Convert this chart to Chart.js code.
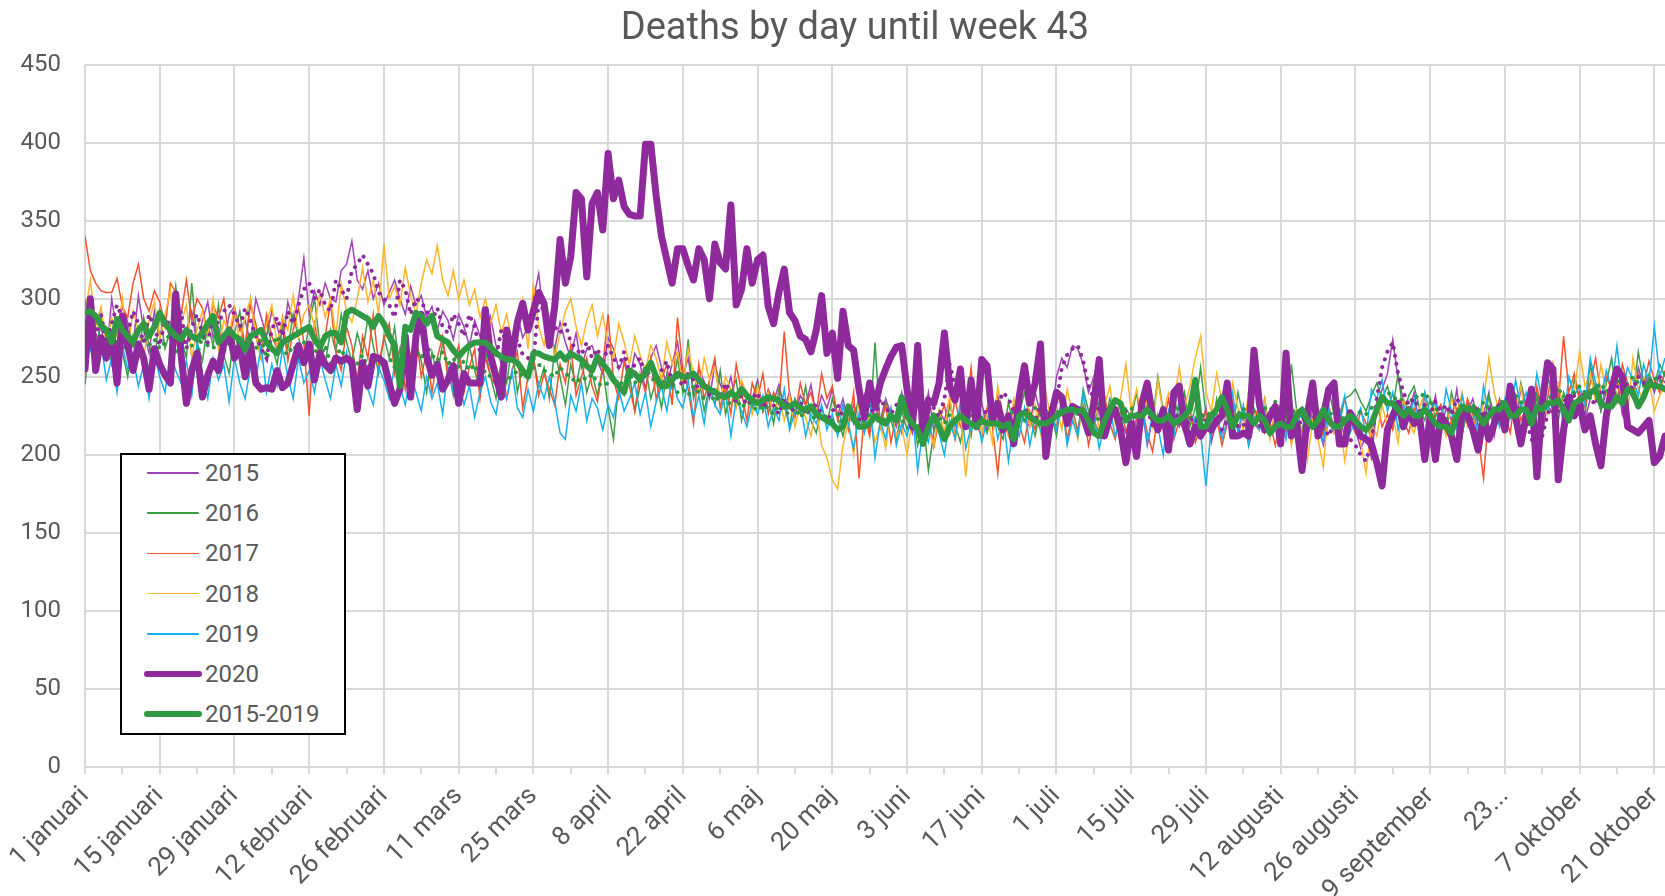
<!DOCTYPE html>
<html>
<head>
<meta charset="utf-8">
<title>Deaths by day until week 43</title>
<script src="https://cdn.jsdelivr.net/npm/chart.js@4.4.1/dist/chart.umd.min.js"></script>
<style>
  html, body { margin: 0; padding: 0; background: #fff; overflow: hidden; }
  #wrap { position: relative; width: 1710px; height: 896px; }
  #legend {
    position: absolute; left: 120px; top: 453px; width: 226px; height: 282px;
    box-sizing: border-box; border: 2px solid #000; background: #fff;
    font-family: Roboto, sans-serif; font-size: 24px; color: #595959;
  }
  #legend .item { position: absolute; left: 0; width: 100%; height: 30px; }
  #legend .swatch { position: absolute; top: 50%; }
  #legend .text { position: absolute; left: 83px; top: 0; line-height: 30px; }
</style>
</head>
<body>
<div id="wrap">
  <canvas id="deaths-chart" width="1710" height="896"></canvas>
  <div id="legend"></div>
</div>
<script>
// tick labels, one per 14 days starting 1 januari
const tickLabels = ['1 januari', '15 januari', '29 januari', '12 februari', '26 februari', '11 mars',
  '25 mars', '8 april', '22 april', '6 maj', '20 maj', '3 juni', '17 juni', '1 juli', '15 juli',
  '29 juli', '12 augusti', '26 augusti', '9 september', '23...', '7 oktober', '21 oktober'];

// daily deaths, 1 jan .. 23 okt (14 values per row)
const s2015 = [
  275, 290, 268, 283, 262, 300, 278, 295, 285, 270, 302, 280, 265, 292,
  276, 288, 272, 296, 265, 280, 292, 270, 286, 298, 275, 282, 268, 290,
  295, 280, 286, 272, 300, 288, 276, 292, 282, 270, 298, 285, 300, 326,
  290, 305, 296, 310, 300, 298, 318, 322, 337, 312, 306, 318, 300, 310,
  296, 304, 312, 300, 290, 308, 296, 302, 288, 295, 280, 292, 286, 274,
  290, 282, 270, 286, 276, 262, 288, 270, 258, 280, 268, 290, 275, 282,
  300, 316, 285, 278, 268, 285, 272, 262, 278, 256, 268, 270, 260, 252,
  275, 268, 255, 262, 248, 265, 258, 242, 262, 270, 256, 245, 258, 272,
  250, 262, 240, 255, 247, 236, 258, 245, 238, 250, 232, 246, 240, 236,
  248, 228, 242, 234, 245, 230, 240, 226, 238, 232, 245, 225, 238, 230,
  242, 225, 236, 220, 232, 224, 238, 218, 230, 222, 236, 226, 218, 240,
  226, 214, 232, 220, 240, 216, 228, 222, 236, 212, 230, 218, 226, 220,
  234, 215, 228, 238, 220, 226, 214, 230, 222, 218, 240, 226, 230, 222,
  250, 262, 256, 270, 268, 258, 240, 250, 226, 236, 218, 230, 222, 214,
  228, 216, 232, 206, 224, 218, 230, 210, 226, 218, 232, 212, 224, 216,
  230, 208, 222, 214, 228, 218, 212, 226, 206, 220, 216, 230, 212, 222,
  214, 226, 208, 220, 230, 212, 224, 218, 206, 222, 214, 228, 210, 220,
  216, 204, 212, 198, 230, 242, 252, 274, 248, 236, 226, 240, 218, 232,
  224, 238, 216, 230, 222, 242, 214, 228, 236, 218, 226, 240, 212, 230,
  222, 236, 216, 244, 228, 220, 238, 214, 232, 226, 244, 218, 234, 228,
  240, 222, 236, 246, 228, 240, 232, 250, 226, 242, 236, 256, 244, 250,
  240, 252, 246
];
const s2016 = [
  245, 280, 262, 290, 272, 258, 282, 266, 250, 276, 262, 288, 270, 258,
  292, 268, 280, 308, 275, 262, 310, 272, 260, 284, 270, 296, 264, 252,
  278, 292, 268, 300, 276, 262, 286, 270, 258, 282, 268, 290, 275, 262,
  284, 300, 270, 258, 280, 266, 290, 272, 260, 278, 265, 288, 270, 252,
  276, 262, 282, 254, 268, 246, 272, 260, 240, 266, 250, 272, 256, 238,
  262, 248, 270, 254, 242, 266, 250, 236, 260, 246, 270, 240, 256, 248,
  262, 244, 256, 236, 268, 250, 232, 258, 244, 262, 240, 252, 238, 256,
  230, 210, 246, 238, 252, 228, 244, 256, 236, 248, 230, 252, 242, 262,
  240, 274, 236, 250, 228, 244, 232, 254, 226, 240, 248, 222, 238, 230,
  246, 228, 236, 220, 242, 232, 218, 236, 226, 244, 222, 214, 230, 220,
  236, 224, 212, 230, 220, 238, 226, 215, 272, 218, 234, 222, 210, 228,
  216, 226, 206, 222, 190, 214, 228, 212, 232, 220, 208, 226, 212, 238,
  222, 214, 230, 218, 210, 234, 216, 226, 240, 224, 212, 230, 218, 226,
  212, 236, 222, 230, 214, 242, 228, 218, 234, 220, 236, 226, 214, 230,
  224, 240, 216, 232, 222, 250, 228, 214, 236, 224, 240, 218, 230, 256,
  226, 212, 236, 222, 230, 216, 240, 224, 212, 230, 222, 236, 214, 226,
  232, 218, 258, 228, 214, 236, 222, 230, 216, 242, 226, 220, 236, 238,
  242, 234, 228, 238, 246, 236, 244, 230, 252, 226, 238, 244, 230, 222,
  236, 224, 232, 218, 240, 226, 212, 234, 222, 230, 216, 238, 226, 220,
  232, 240, 224, 246, 232, 218, 238, 226, 252, 234, 222, 240, 230, 248,
  236, 224, 258, 240, 228, 246, 262, 234, 250, 242, 238, 266, 246, 252,
  244, 258, 250
];
const s2017 = [
  340, 318, 310, 305, 304, 304, 313, 295, 288, 310, 322, 300, 292, 305,
  298, 282, 310, 304, 290, 312, 286, 300, 294, 278, 296, 288, 300, 274,
  290, 282, 270, 296, 284, 262, 290, 276, 268, 288, 260, 280, 294, 272,
  225, 286, 262, 276, 298, 266, 254, 282, 270, 248, 276, 262, 290, 258,
  274, 284, 252, 268, 242, 264, 278, 250, 266, 240, 262, 276, 248, 258,
  270, 240, 256, 268, 236, 262, 250, 244, 258, 236, 254, 266, 230, 250,
  262, 238, 252, 242, 232, 258, 246, 270, 238, 250, 262, 244, 234, 256,
  290, 248, 236, 260, 244, 228, 252, 240, 262, 236, 248, 258, 232, 288,
  254, 242, 220, 258, 236, 248, 262, 230, 244, 226, 258, 240, 222, 246,
  236, 252, 226, 240, 232, 279, 238, 224, 246, 232, 240, 226, 252, 236,
  244, 222, 232, 216, 240, 185, 226, 212, 238, 218, 232, 208, 226, 214,
  230, 220, 238, 212, 226, 205, 222, 232, 214, 236, 218, 226, 256, 220,
  212, 230, 218, 188, 226, 214, 232, 220, 208, 228, 216, 234, 212, 224,
  218, 236, 210, 226, 216, 232, 206, 222, 214, 238, 220, 210, 228, 216,
  206, 224, 232, 214, 202, 226, 218, 236, 210, 222, 214, 230, 208, 218,
  228, 212, 224, 206, 220, 234, 216, 226, 210, 222, 232, 214, 220, 206,
  224, 214, 230, 218, 208, 226, 240, 220, 212, 232, 216, 226, 236, 222,
  214, 228, 220, 210, 234, 218, 226, 216, 232, 222, 214, 230, 220, 238,
  216, 226, 232, 214, 222, 230, 218, 236, 226, 212, 185, 228, 220, 236,
  226, 214, 238, 222, 230, 218, 244, 226, 236, 258, 232, 276, 240, 252,
  236, 230, 246, 262, 238, 250, 242, 234, 258, 246, 238, 252, 244, 260,
  248, 240, 254
];
const s2018 = [
  290, 312, 282, 295, 270, 288, 276, 300, 268, 292, 280, 262, 286, 298,
  274, 290, 306, 270, 284, 296, 262, 280, 292, 276, 300, 268, 286, 278,
  294, 272, 288, 300, 276, 262, 284, 296, 270, 288, 280, 302, 276, 290,
  296, 282, 304, 288, 300, 276, 310, 292, 285, 300, 320, 298, 312, 290,
  335, 300, 308, 296, 320, 302, 290, 310, 325, 316, 334, 312, 302, 318,
  300, 312, 296, 306, 288, 300, 284, 296, 278, 290, 272, 286, 300, 268,
  309, 282, 270, 288, 262, 278, 292, 300, 282, 270, 286, 296, 276, 290,
  270, 262, 284, 272, 258, 276, 264, 254, 270, 262, 248, 272, 258, 266,
  246, 268, 252, 240, 262, 248, 256, 236, 250, 242, 230, 248, 238, 226,
  244, 232, 240, 226, 236, 222, 238, 218, 232, 224, 212, 230, 206, 198,
  184, 178, 206, 222, 200, 236, 214, 226, 208, 220, 204, 230, 212, 218,
  200, 224, 212, 236, 218, 206, 228, 214, 238, 210, 226, 186, 220, 232,
  214, 226, 208, 244, 222, 212, 236, 226, 256, 218, 232, 214, 240, 222,
  232, 216, 242, 226, 210, 236, 222, 248, 214, 232, 244, 220, 236, 258,
  228, 242, 222, 236, 218, 248, 226, 240, 234, 256, 230, 244, 262, 276,
  240, 228, 252, 234, 220, 246, 230, 216, 240, 226, 222, 236, 210, 228,
  216, 234, 206, 228, 216, 196, 222, 210, 192, 232, 214, 224, 196, 218,
  226, 208, 188, 220, 212, 232, 218, 226, 208, 236, 222, 214, 230, 240,
  218, 232, 224, 212, 236, 226, 240, 218, 230, 210, 234, 262, 240, 226,
  214, 236, 228, 244, 222, 232, 212, 238, 226, 250, 246, 230, 222, 240,
  266, 244, 252, 234, 258, 240, 230, 250, 236, 226, 262, 242, 234, 248,
  228, 238, 244
];
const s2019 = [
  300, 268, 255, 272, 248, 262, 240, 270, 255, 262, 244, 258, 236, 264,
  250, 240, 266, 254, 246, 260, 238, 272, 252, 236, 262, 248, 258, 234,
  262, 246, 236, 256, 248, 270, 240, 258, 244, 268, 250, 236, 262, 246,
  254, 240, 262, 248, 236, 258, 244, 266, 250, 238, 260, 242, 232, 256,
  248, 236, 258, 244, 232, 252, 240, 228, 250, 236, 246, 226, 256, 240,
  248, 232, 244, 224, 240, 250, 234, 226, 246, 236, 254, 230, 224, 242,
  228, 246, 236, 250, 234, 214, 210, 238, 228, 246, 222, 236, 230, 216,
  232, 224, 242, 228, 236, 246, 226, 240, 218, 234, 244, 228, 250, 236,
  230, 248, 224, 238, 220, 244, 232, 226, 240, 212, 236, 228, 218, 234,
  226, 238, 218, 230, 222, 242, 216, 228, 234, 212, 226, 220, 232, 216,
  226, 212, 232, 220, 204, 226, 214, 236, 198, 222, 210, 230, 206, 220,
  212, 228, 190, 218, 208, 226, 214, 200, 222, 210, 234, 204, 218, 226,
  208, 222, 232, 210, 224, 196, 220, 212, 230, 206, 224, 216, 202, 226,
  216, 234, 206, 222, 212, 240, 218, 226, 204, 220, 230, 212, 224, 206,
  222, 214, 232, 208, 226, 218, 200, 228, 212, 236, 220, 206, 224, 214,
  180, 218, 228, 210, 222, 240, 214, 232, 206, 224, 216, 230, 212, 220,
  226, 210, 234, 218, 228, 212, 236, 220, 208, 230, 216, 224, 238, 214,
  222, 230, 212, 242, 236, 248, 228, 240, 216, 232, 222, 236, 214, 240,
  226, 234, 218, 242, 228, 216, 238, 224, 232, 212, 244, 226, 230, 218,
  236, 224, 248, 230, 240, 226, 252, 234, 228, 246, 236, 222, 250, 238,
  244, 232, 262, 246, 236, 254, 242, 270, 240, 256, 248, 238, 258, 246,
  282, 250, 262
];
const s2020 = [
  255, 300, 254, 275, 262, 278, 246, 289, 270, 254, 271, 262, 242, 268,
  258, 251, 246, 303, 264, 233, 254, 265, 237, 251, 260, 254, 271, 280,
  262, 270, 250, 271, 246, 242, 243, 242, 254, 243, 246, 258, 270, 259,
  271, 248, 265, 258, 254, 262, 260, 262, 259, 229, 259, 244, 263, 262,
  259, 246, 233, 242, 276, 237, 276, 290, 263, 251, 258, 242, 248, 257,
  233, 252, 246, 246, 246, 293, 263, 250, 237, 280, 263, 285, 297, 280,
  292, 304, 297, 270, 295, 338, 310, 327, 368, 364, 314, 361, 368, 344,
  393, 364, 376, 359, 354, 353, 353, 399, 399, 366, 340, 325, 310, 332,
  332, 321, 312, 332, 325, 300, 335, 323, 319, 360, 296, 306, 332, 310,
  325, 328, 295, 284, 304, 319, 291, 286, 276, 274, 266, 280, 302, 265,
  278, 249, 292, 270, 267, 242, 224, 246, 231, 246, 255, 263, 269, 270,
  242, 218, 270, 212, 235, 233, 246, 278, 244, 235, 255, 218, 248, 218,
  261, 257, 222, 233, 216, 225, 207, 237, 257, 233, 246, 271, 199, 225,
  240, 237, 220, 231, 229, 225, 214, 233, 261, 212, 225, 229, 216, 195,
  220, 199, 233, 246, 225, 216, 229, 203, 240, 244, 220, 207, 218, 212,
  218, 216, 222, 225, 246, 212, 212, 214, 212, 267, 233, 216, 225, 231,
  207, 265, 212, 220, 190, 225, 246, 212, 225, 242, 246, 207, 207, 227,
  220, 212, 210, 207, 195, 180, 216, 225, 233, 218, 229, 220, 225, 197,
  225, 197, 225, 220, 212, 197, 229, 225, 216, 203, 225, 210, 220, 231,
  216, 244, 225, 207, 225, 242, 186, 233, 259, 255, 184, 216, 237, 225,
  233, 216, 225, 207, 193, 225, 242, 255, 250, 218, 216, 214, 218, 222,
  195, 199, 212
];
const s2015to2019 = [
  291, 292, 289, 283, 280, 272, 287, 280, 276, 272, 280, 284, 276, 282,
  291, 284, 280, 276, 274, 280, 276, 274, 278, 284, 289, 272, 276, 280,
  276, 274, 267, 276, 278, 280, 272, 268, 265, 272, 274, 276, 278, 280,
  282, 274, 269, 276, 278, 278, 272, 291, 293, 291, 289, 287, 282, 289,
  284, 276, 270, 244, 282, 280, 291, 289, 284, 289, 276, 274, 272, 267,
  263, 267, 270, 272, 272, 272, 269, 265, 263, 261, 261, 259, 254, 250,
  265, 265, 263, 262, 261, 265, 261, 265, 263, 261, 257, 254, 263, 258,
  254, 248, 244, 240, 254, 252, 248, 252, 259, 250, 244, 244, 248, 252,
  250, 250, 252, 248, 244, 242, 240, 238, 237, 240, 237, 242, 238, 235,
  233, 235, 237, 236, 235, 231, 231, 233, 230, 229, 231, 226, 224, 222,
  220, 216, 218, 231, 224, 218, 218, 220, 225, 222, 220, 225, 222, 237,
  225, 220, 216, 207, 218, 225, 218, 210, 218, 222, 225, 222, 220, 218,
  222, 220, 220, 220, 218, 220, 210, 225, 227, 224, 222, 220, 220, 222,
  225, 227, 229, 229, 228, 228, 222, 214, 212, 222, 229, 235, 233, 222,
  225, 225, 225, 229, 225, 222, 222, 225, 220, 222, 225, 229, 248, 218,
  218, 225, 229, 237, 229, 218, 225, 225, 225, 220, 225, 222, 214, 218,
  220, 218, 218, 225, 229, 222, 218, 222, 229, 222, 218, 218, 222, 225,
  222, 218, 216, 220, 229, 237, 233, 233, 229, 225, 229, 225, 225, 229,
  225, 220, 218, 218, 214, 225, 231, 229, 229, 225, 220, 225, 229, 229,
  233, 225, 225, 229, 229, 220, 231, 229, 233, 233, 235, 229, 222, 233,
  235, 237, 240, 242, 233, 231, 231, 237, 233, 242, 240, 231, 237, 246,
  244, 244, 242
];
// the two dotted lines drawn without a legend entry
const dottedPurple = [
  268, 282, 276, 290, 272, 284, 296, 288, 278, 292, 284, 272, 290, 282,
  270, 286, 284, 276, 292, 268, 282, 290, 278, 272, 288, 284, 292, 296,
  290, 282, 294, 286, 276, 268, 262, 280, 288, 276, 292, 284, 296, 306,
  310, 300, 306, 296, 292, 312, 306, 300, 318, 322, 328, 322, 316, 304,
  300, 296, 288, 312, 306, 290, 300, 298, 292, 286, 294, 282, 278, 290,
  284, 276, 290, 282, 266, 274, 270, 262, 280, 272, 268, 274, 264, 262,
  260, 298, 292, 286, 282, 278, 284, 272, 268, 264, 272, 262, 268, 258,
  270, 262, 256, 266, 252, 258, 262, 250, 256, 248, 254, 260, 246, 250,
  244, 252, 248, 242, 246, 238, 242, 236, 246, 240, 234, 238, 232, 236,
  240, 230, 236, 232, 226, 236, 230, 228, 234, 226, 230, 232, 226, 222,
  228, 232, 224, 230, 226, 222, 228, 232, 224, 236, 230, 226, 232, 230,
  228, 222, 234, 226, 238, 230, 224, 236, 258, 244, 238, 226, 234, 228,
  222, 230, 226, 232, 240, 236, 228, 224, 230, 226, 222, 232, 226, 230,
  234, 256, 264, 268, 270, 260, 244, 236, 228, 232, 224, 226, 222, 228,
  220, 226, 222, 230, 218, 224, 226, 220, 228, 222, 216, 224, 220, 226,
  222, 218, 224, 216, 222, 226, 218, 220, 214, 222, 218, 224, 212, 220,
  216, 222, 218, 214, 224, 220, 216, 222, 218, 212, 220, 216, 214, 210,
  206, 200, 196, 208, 236, 256, 266, 272, 252, 240, 232, 236, 228, 232,
  226, 234, 228, 232, 226, 236, 230, 226, 232, 228, 224, 230, 226, 232,
  228, 234, 226, 232, 222, 210, 204, 212, 226, 232, 228, 236, 232, 238,
  234, 240, 236, 232, 242, 238, 236, 244, 240, 246, 242, 250, 246, 248,
  244, 250, 252
];
const dottedGreen = [
  272, 276, 270, 274, 268, 278, 272, 266, 274, 270, 262, 276, 270, 274,
  268, 272, 278, 266, 274, 280, 270, 264, 276, 270, 268, 274, 266, 272,
  276, 270, 266, 272, 268, 274, 262, 270, 276, 268, 264, 270, 266, 272,
  264, 268, 262, 270, 258, 264, 268, 260, 262, 258, 264, 256, 260, 262,
  258, 262, 256, 264, 268, 260, 266, 262, 270, 264, 260, 266, 258, 262,
  256, 260, 254, 258, 250, 254, 250, 246, 252, 248, 250, 254, 250, 252,
  256, 258, 254, 252, 250, 256, 252, 250, 246, 250, 248, 252, 246, 244,
  246, 250, 244, 248, 252, 246, 250, 256, 250, 246, 244, 250, 246, 240,
  242, 238, 244, 240, 236, 240, 234, 238, 236, 232, 236, 230, 234, 232,
  228, 232, 230, 226, 232, 228, 226, 230, 224, 228, 226, 222, 226, 224,
  222, 226, 220, 224, 222, 218, 222, 226, 220, 224, 222, 226, 224, 222,
  220, 224, 218, 222, 220, 226, 224, 220, 226, 222, 224, 220, 226, 222,
  224, 220, 222, 226, 220, 224, 228, 224, 222, 226, 230, 226, 228, 224,
  228, 226, 230, 228, 226, 230, 224, 226, 222, 228, 226, 230, 232, 228,
  230, 226, 228, 232, 226, 224, 228, 222, 226, 230, 228, 224, 222, 226,
  224, 228, 226, 230, 232, 228, 226, 230, 224, 228, 232, 230, 228, 234,
  232, 228, 226, 230, 224, 228, 232, 226, 222, 228, 224, 226, 222, 226,
  224, 228, 226, 230, 232, 236, 240, 238, 234, 236, 232, 238, 236, 240,
  234, 230, 226, 222, 228, 224, 230, 226, 232, 228, 234, 230, 226, 232,
  236, 232, 238, 234, 230, 236, 240, 234, 238, 236, 242, 238, 234, 240,
  244, 240, 236, 242, 246, 240, 244, 248, 242, 246, 250, 246, 244, 248,
  250, 246, 252
];

const dayIndex = s2020.map((_, i) => i);
const lastDay = dayIndex.length - 1;
// a tick every 7 days (gridline + label every 14)
const tickDays = [];
tickLabels.forEach((_, i) => { tickDays.push(i * 14); if (i * 14 + 7 <= lastDay) tickDays.push(i * 14 + 7); });

Chart.defaults.font.family = 'Roboto, sans-serif';
Chart.defaults.color = '#595959';

const thin = (label, data, color, order) => ({
  label, data, borderColor: color, backgroundColor: color,
  borderWidth: 1.5, order, legendWidth: 1.5
});
const dotted = (label, data, color) => ({
  label, data, borderColor: color, backgroundColor: color,
  borderWidth: 4, borderDash: [0.1, 8], borderCapStyle: 'round', order: 2, hideInLegend: true
});

const datasets = [
  thin('2015', s2015, '#a043b8', 8),
  thin('2016', s2016, '#3c9d47', 7),
  thin('2017', s2017, '#f2532c', 6),
  thin('2018', s2018, '#ffb52a', 5),
  thin('2019', s2019, '#15b1ee', 4),
  { label: '2020', data: s2020, borderColor: '#8e2a9b', backgroundColor: '#8e2a9b',
    borderWidth: 7, borderJoinStyle: 'round', borderCapStyle: 'round', order: 1, legendWidth: 6 },
  { label: '2015-2019', data: s2015to2019, borderColor: '#2f9a43', backgroundColor: '#2f9a43',
    borderWidth: 6, borderJoinStyle: 'round', borderCapStyle: 'round', order: 0, legendWidth: 6 },
  dotted('2015 prickad', dottedPurple, '#8e2a9b'),
  dotted('2016 prickad', dottedGreen, '#2f9a43'),
];

const chart = new Chart(document.getElementById('deaths-chart'), {
  type: 'line',
  data: { labels: dayIndex, datasets },
  options: {
    responsive: false,
    animation: false,
    devicePixelRatio: 1,
    layout: { padding: 0 },
    elements: { point: { radius: 0 }, line: { tension: 0 } },
    plugins: {
      legend: { display: false },
      tooltip: { enabled: false },
      title: {
        display: true,
        text: 'Deaths by day until week 43',
        color: '#595959',
        font: { size: 38, weight: 'normal' },
        padding: { top: 7, bottom: 12 }
      }
    },
    scales: {
      x: {
        type: 'linear',
        min: 0,
        max: lastDay,
        afterBuildTicks: (axis) => { axis.ticks = tickDays.map(v => ({ value: v })); },
        // fixed axis height, and keep 45px free on the right so the plot ends at the window edge
        afterFit: (scale) => { scale.height = 129; scale.paddingRight = 45; },
        ticks: {
          autoSkip: false,
          minRotation: 45,
          maxRotation: 45,
          padding: 7,
          color: '#595959',
          font: { size: 26 },
          callback: (v) => (v % 14 === 0 ? tickLabels[v / 14] : '')
        },
        grid: {
          color: (ctx) => (ctx.tick && ctx.tick.value % 14 === 0 ? '#d9d9d9' : 'rgba(0,0,0,0)'),
          tickColor: '#d9d9d9',
          lineWidth: 2,
          tickLength: 7
        },
        border: { color: '#d9d9d9', width: 2 }
      },
      y: {
        min: 0,
        max: 450,
        afterFit: (scale) => { scale.width = 85; },
        ticks: { stepSize: 50, padding: 24, color: '#595959', font: { size: 24 } },
        grid: { color: '#d9d9d9', lineWidth: 2, drawTicks: false },
        border: { display: false }
      }
    }
  }
});

// legend box inside the plot, built from the datasets
const legendEl = document.getElementById('legend');
chart.data.datasets.forEach((ds, i) => {
  if (ds.hideInLegend) return;
  const item = document.createElement('div');
  item.className = 'item';
  item.style.top = (3 + 40.2 * i) + 'px';
  const sw = document.createElement('div');
  sw.className = 'swatch';
  const thick = ds.legendWidth > 2;
  sw.style.left = (thick ? 22 : 25) + 'px';
  sw.style.width = (thick ? 58 : 52) + 'px';
  sw.style.height = ds.legendWidth + 'px';
  sw.style.marginTop = (-ds.legendWidth / 2) + 'px';
  sw.style.borderRadius = (ds.legendWidth / 2) + 'px';
  sw.style.background = ds.borderColor;
  const tx = document.createElement('div');
  tx.className = 'text';
  tx.textContent = ds.label;
  item.appendChild(sw);
  item.appendChild(tx);
  legendEl.appendChild(item);
});
</script>
</body>
</html>
